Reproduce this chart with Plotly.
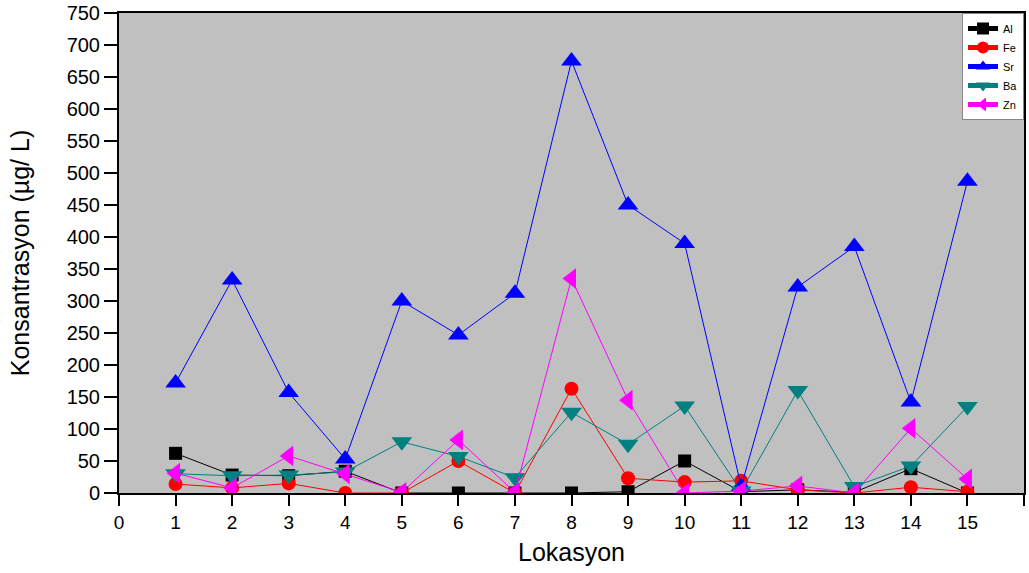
import plotly.graph_objects as go

locations = list(range(1, 16))
al = [62, 28, 27, 34, 0, 0, 0, 0, 2, 50, 2, 5, 1, 38, 0]
fe = [14, 8, 15, 0, 0, 50, 0, 163, 23, 17, 19, 5, 0, 9, 2]
sr = [172, 333, 157, 53, 300, 247, 312, 675, 450, 390, 10, 322, 385, 142, 487]
ba = [30, 27, 28, 33, 80, 57, 24, 126, 76, 136, 3, 160, 10, 42, 135]
zn = [31, 8, 58, 30, 1, 83, 1, 335, 145, 0, 3, 11, 0, 101, 22]

series = [
    ("Al", al, "#000000", "square", 13),
    ("Fe", fe, "#ff0000", "circle", 14),
    ("Sr", sr, "#0000ff", "triangle-up", 18),
    ("Ba", ba, "#008080", "triangle-down", 18),
    ("Zn", zn, "#ff00ff", "triangle-left", 18),
]

fig = go.Figure()
for name, vals, col, sym, sz in series:
    fig.add_trace(go.Scatter(
        x=locations, y=vals, mode="lines+markers", name=name,
        line=dict(color=col, width=1),
        marker=dict(symbol=sym, size=sz, color=col, line=dict(width=0)),
    ))

fig.update_layout(
    width=1029, height=573,
    margin=dict(l=119, r=5, t=13, b=80, autoexpand=False),
    paper_bgcolor="white", plot_bgcolor="#c0c0c0",
    font=dict(family="Liberation Sans, Arial", color="black"),
    showlegend=True,
    legend=dict(x=1, y=1, xanchor="right", yanchor="top",
                bgcolor="white", bordercolor="#888888", borderwidth=1,
                font=dict(size=11), tracegroupgap=0, itemsizing="constant",
                itemwidth=30),
)
fig.update_xaxes(range=[0, 16], tickmode="array", tickvals=list(range(0, 17)),
                 ticks="outside", ticklen=11, tickwidth=2, tickcolor="black",
                 showline=True, linecolor="black", linewidth=2, mirror=True,
                 showgrid=False, zeroline=False, tickfont=dict(size=19),
                 automargin=False,
                 title=dict(text="Lokasyon", font=dict(size=25), standoff=12))
fig.update_yaxes(range=[0, 750], tickmode="array", tickvals=list(range(0, 751, 50)),
                 ticks="outside", ticklen=13, tickwidth=2, tickcolor="black",
                 showline=True, linecolor="black", linewidth=2, mirror=True,
                 showgrid=False, zeroline=False, tickfont=dict(size=20),
                 automargin=False,
                 title=dict(text="Konsantrasyon (µg/ L)", font=dict(size=25), standoff=30))

fig.write_html("out.html", config={"displayModeBar": False},
               post_script="document.body.style.margin='0px';")
